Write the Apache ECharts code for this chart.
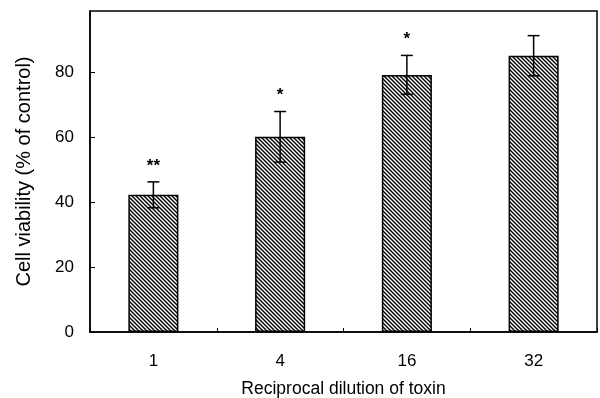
<!DOCTYPE html>
<html>
<head>
<meta charset="utf-8">
<script src="https://cdn.jsdelivr.net/npm/echarts@6/dist/echarts.min.js"></script>
<style>html,body{margin:0;padding:0;background:#fff}#c{width:600px;height:398px}</style>
</head>
<body>
<div id="c"></div>
<script>
const categories = ['1', '4', '16', '32'];
const viability = [42.3, 60.2, 79.3, 85.2];
const errors = [4.0, 7.8, 6.0, 6.2];
const marks = ['**', '*', '*', ''];
const yTicks = [0, 20, 40, 60, 80];

function hatch() {
  const s = 8;
  const c = document.createElement('canvas');
  c.width = s; c.height = s;
  const g = c.getContext('2d');
  g.fillStyle = '#fff'; g.fillRect(0, 0, s, s);
  g.strokeStyle = '#000'; g.lineWidth = 1.4;
  for (let k = -2; k <= 2; k++) {
    g.beginPath();
    g.moveTo(k * 4 - 1, -1);
    g.lineTo(k * 4 + s + 1, s + 1);
    g.stroke();
  }
  return c;
}

const chart = echarts.init(document.getElementById('c'), null, {renderer: 'canvas'});
const font = 'Liberation Sans, Arial, sans-serif';
chart.setOption({
  animation: false,
  grid: {left: 90, right: 3, top: 11, bottom: 66, containLabel: false, outerBoundsMode: 'none',
    show: true, borderColor: '#000', borderWidth: 1.5, backgroundColor: 'transparent'},
  xAxis: {
    type: 'category', data: categories,
    name: 'Reciprocal dilution of toxin', nameLocation: 'middle', nameGap: 48,
    nameTextStyle: {fontFamily: font, fontSize: 17.5, color: '#000'},
    axisLine: {lineStyle: {color: '#000', width: 1.5}},
    axisTick: {show: true, inside: true, length: 4, alignWithLabel: false, lineStyle: {color: '#000', width: 1}},
    axisLabel: {fontFamily: font, fontSize: 17, color: '#000', margin: 21}
  },
  yAxis: {
    type: 'value', min: 0, max: 99, interval: 20,
    name: 'Cell viability (% of control)', nameLocation: 'middle', nameGap: 56, nameRotate: 90,
    nameTextStyle: {fontFamily: font, fontSize: 20, color: '#000'},
    axisLine: {show: true, lineStyle: {color: '#000', width: 1.5}},
    axisTick: {show: true, inside: true, length: 5, lineStyle: {color: '#000', width: 1}},
    splitLine: {show: false},
    axisLabel: {fontFamily: font, fontSize: 17, color: '#000', margin: 16, showMaxLabel: false,
      formatter: v => yTicks.includes(v) ? String(v) : ''}
  },
  series: [
    {
      type: 'bar', data: viability, barWidth: '39.5%',
      itemStyle: {color: {image: hatch(), repeat: 'repeat'}, borderColor: '#000', borderWidth: 1.5}
    },
    {
      type: 'custom',
      data: viability.map((v, i) => [i, v, errors[i]]),
      renderItem: (params, api) => {
        const i = api.value(0), v = api.value(1), e = api.value(2);
        const top = api.coord([i, v + e]);
        const bot = api.coord([i, v - e]);
        const cap = 6;
        const children = [
          {type: 'line', shape: {x1: top[0], y1: top[1], x2: bot[0], y2: bot[1]}, style: {stroke: '#000', lineWidth: 1.5}},
          {type: 'line', shape: {x1: top[0] - cap, y1: top[1], x2: top[0] + cap, y2: top[1]}, style: {stroke: '#000', lineWidth: 1.5}},
          {type: 'line', shape: {x1: bot[0] - cap, y1: bot[1], x2: bot[0] + cap, y2: bot[1]}, style: {stroke: '#000', lineWidth: 1.5}}
        ];
        const m = marks[params.dataIndex];
        if (m) {
          children.push({type: 'text', style: {text: m, x: top[0], y: top[1] - 16, align: 'center', verticalAlign: 'middle',
            font: 'bold 17px ' + font, fill: '#000'}});
        }
        return {type: 'group', children};
      },
      z: 10
    }
  ]
});
</script>
</body>
</html>
